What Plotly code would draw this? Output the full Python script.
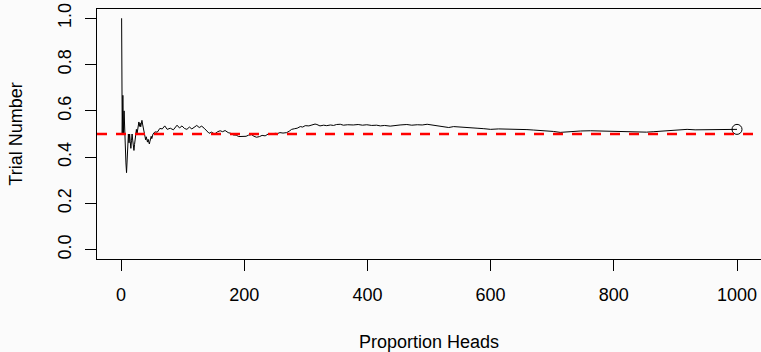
import plotly.graph_objects as go

# Running proportion of heads over 1000 coin tosses (trial number, proportion)
trials = [
    1, 2, 3, 4, 5, 6, 7, 8, 9, 10,
    11, 12, 13, 14, 15, 16, 17, 18, 19, 20,
    21, 22, 23, 24, 25, 26, 27, 28, 29, 30,
    31, 32, 33, 34, 35, 36, 37, 38, 39, 40,
    41, 42, 43, 44, 45, 46, 47, 48, 49, 50,
    52, 55, 59, 63, 67, 71, 75, 80, 85, 91,
    95, 99, 103, 107, 111, 115, 119, 123, 127, 131,
    135, 139, 143, 147, 152, 157, 161, 165, 169, 174,
    178, 182, 187, 191, 195, 199, 203, 207, 212, 216,
    220, 225, 229, 234, 239, 244, 250, 254, 258, 263,
    269, 273, 277, 282, 286, 291, 295, 299, 305, 310,
    315, 318, 323, 329, 334, 340, 345, 350, 356, 361,
    368, 377, 385, 392, 399, 407, 415, 421, 428, 437,
    445, 453, 464, 472, 481, 489, 497, 505, 513, 522,
    532, 540, 548, 556, 567, 578, 589, 600, 613, 627,
    637, 648, 659, 670, 681, 692, 702, 713, 722, 730,
    738, 746, 762, 778, 795, 811, 826, 841, 853, 865,
    878, 892, 905, 919, 932, 946, 960, 973, 987, 1000,
]
prop_heads = [
    1.0, 0.5, 0.667, 0.5, 0.6, 0.5, 0.429, 0.375, 0.333, 0.4,
    0.455, 0.5, 0.462, 0.5, 0.467, 0.438, 0.471, 0.5, 0.474, 0.45,
    0.429, 0.455, 0.478, 0.5, 0.52, 0.5, 0.519, 0.536, 0.552, 0.533,
    0.548, 0.531, 0.545, 0.559, 0.543, 0.528, 0.514, 0.5, 0.487, 0.475,
    0.488, 0.476, 0.465, 0.477, 0.467, 0.457, 0.468, 0.479, 0.49, 0.48,
    0.5, 0.509, 0.508, 0.524, 0.522, 0.535, 0.52, 0.525, 0.518, 0.538,
    0.526, 0.535, 0.524, 0.52, 0.53, 0.522, 0.529, 0.537, 0.528, 0.534,
    0.525, 0.512, 0.503, 0.508, 0.5, 0.51, 0.514, 0.51, 0.515, 0.506,
    0.503, 0.496, 0.495, 0.489, 0.49, 0.492, 0.49, 0.495, 0.497, 0.49,
    0.486, 0.489, 0.494, 0.492, 0.5, 0.498, 0.503, 0.502, 0.506, 0.504,
    0.506, 0.512, 0.52, 0.523, 0.525, 0.532, 0.53, 0.536, 0.535, 0.539,
    0.543, 0.541, 0.535, 0.538, 0.536, 0.539, 0.537, 0.541, 0.542, 0.538,
    0.54, 0.539, 0.541, 0.538, 0.54, 0.537, 0.538, 0.535, 0.537, 0.534,
    0.538, 0.539, 0.541, 0.538, 0.54, 0.539, 0.542, 0.539, 0.535, 0.533,
    0.528, 0.532, 0.53, 0.529, 0.527, 0.525, 0.523, 0.52, 0.522, 0.522,
    0.52, 0.52, 0.519, 0.517, 0.516, 0.513, 0.511, 0.507, 0.509, 0.51,
    0.512, 0.513, 0.514, 0.513, 0.512, 0.51, 0.509, 0.506, 0.508, 0.51,
    0.512, 0.513, 0.516, 0.52, 0.518, 0.519, 0.52, 0.52, 0.519, 0.52,
]
assert len(trials) == len(prop_heads)

expected = 0.5
x_ticks = [0, 200, 400, 600, 800, 1000]
y_ticks = [0.0, 0.2, 0.4, 0.6, 0.8, 1.0]
y_tick_text = ["0.0", "0.2", "0.4", "0.6", "0.8", "1.0"]

FONT = "Liberation Sans, Arial, Helvetica, sans-serif"
BG = "#fbfbfb"

fig = go.Figure()

# running proportion
fig.add_trace(go.Scatter(
    x=trials, y=prop_heads, mode="lines",
    line=dict(color="black", width=1),
    hoverinfo="skip", showlegend=False,
))

# final proportion marked with an open circle
fig.add_trace(go.Scatter(
    x=[trials[-1]], y=[prop_heads[-1]], mode="markers",
    marker=dict(symbol="circle-open", size=10, color="black",
                line=dict(width=1, color="black")),
    hoverinfo="skip", showlegend=False,
))

# reference line at the fair-coin probability
fig.add_shape(
    type="line", xref="paper", yref="y",
    x0=0, x1=1, y0=expected, y1=expected,
    line=dict(color="#ff0000", width=2.5, dash="10px,9px"),
    layer="above",
)

fig.update_layout(
    width=761, height=352,
    margin=dict(l=97, r=0, t=9, b=93),
    paper_bgcolor=BG, plot_bgcolor=BG,
    font=dict(family=FONT, size=18, color="black"),
    xaxis=dict(
        range=[-38.96, 1038.96],
        tickmode="array", tickvals=x_ticks,
        ticks="outside", ticklen=11, tickcolor="black", tickwidth=1,
        showline=True, linecolor="black", linewidth=1, mirror=True,
        showgrid=False, zeroline=False,
        ticklabelstandoff=8,
        title=dict(text="Proportion Heads", standoff=31,
                   font=dict(size=18)),
    ),
    yaxis=dict(
        range=[-0.04, 1.04],
        tickmode="array", tickvals=y_ticks, ticktext=y_tick_text,
        tickangle=-90,
        ticks="outside", ticklen=11, tickcolor="black", tickwidth=1,
        showline=True, linecolor="black", linewidth=1, mirror=False,
        showgrid=False, zeroline=False,
        ticklabelstandoff=7,
        title=dict(text="Trial Number", standoff=27,
                   font=dict(size=18)),
    ),
)

fig.write_html("out.html")
